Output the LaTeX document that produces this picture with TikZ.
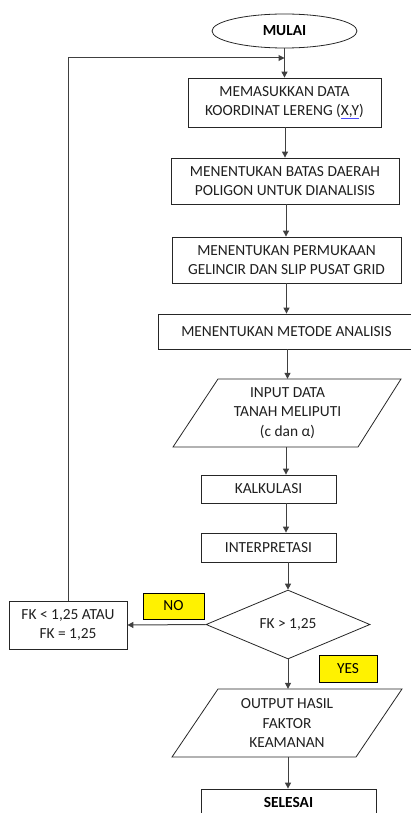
\documentclass[tikz,border=0pt]{standalone}
\usepackage{fontspec}
\setmainfont{Carlito}
\usetikzlibrary{shapes.geometric,arrows.meta}
\begin{document}
\begin{tikzpicture}[x=1pt,y=-1pt,
  boxn/.style={draw=black!85, line width=0.8pt, rectangle, inner sep=0pt, align=center, text=black!88, font=\fontsize{15.4}{19}\selectfont},
  txtn/.style={rectangle, inner sep=0pt, align=center, text=black!88, font=\fontsize{15.4}{19.5}\selectfont},
  shp/.style={draw=black!85, line width=0.8pt},
  conn/.style={draw=black!75, line width=1pt, -{Triangle[length=6pt,width=6pt]}},
  tag/.style={draw=black, fill=yellow, line width=0.8pt, rectangle, inner sep=0pt, text=black, font=\fontsize{15.4}{18}\selectfont},
]
\useasboundingbox (0,0) rectangle (410,813);
\coordinate (spine) at (286,0);
\node[ellipse, draw=black!85, line width=0.8pt, minimum width=145pt, minimum height=34pt, inner sep=0pt, font=\fontsize{15.4}{18}\selectfont\bfseries] (mulai) at (284.5,31) {MULAI};
\node[boxn, minimum width=193pt, minimum height=49pt] (b1) at (284.5,102.5) {MEMASUKKAN DATA\\KOORDINAT LERENG ({\color{blue!70}\underline{\textcolor{black!88}{X,Y}}})};
\node[boxn, minimum width=228pt, minimum height=46pt] (b2) at (285,181) {MENENTUKAN BATAS DAERAH\\POLIGON UNTUK DIANALISIS};
\node[boxn, minimum width=229pt, minimum height=46pt] (b3) at (286.5,260) {MENENTUKAN PERMUKAAN\\GELINCIR DAN SLIP PUSAT GRID};
\node[boxn, minimum width=257pt, minimum height=35pt] (b4) at (286.5,331.5) {MENENTUKAN METODE ANALISIS};
\draw[shp] (218,379) -- (401,379) -- (358,447) -- (173,447) -- cycle;
\node[txtn, minimum width=140pt, minimum height=68pt] (inp) at (287.5,413) {INPUT DATA\\TANAH MELIPUTI\\(c dan α)};
\node[boxn, minimum width=135pt, minimum height=28pt] (kalk) at (268.5,489) {KALKULASI};
\node[boxn, minimum width=135pt, minimum height=29pt] (interp) at (268.5,547.5) {INTERPRETASI};
\node[diamond, draw=black!85, line width=0.8pt, minimum width=164pt, minimum height=66pt, inner sep=0pt, text=black!88, font=\fontsize{15.4}{18}\selectfont] (dec) at (288,624.5) {FK > 1,25};
\node[boxn, minimum width=118pt, minimum height=48pt] (fk) at (68,625) {FK < 1,25 ATAU\\FK = 1,25};
\node[tag, minimum width=61pt, minimum height=26pt] (no) at (173.5,606) {NO};
\node[tag, minimum width=58pt, minimum height=27pt] (yes) at (348,668.5) {YES};
\draw[shp] (218,689) -- (402,689) -- (356,757) -- (172,757) -- cycle;
\node[txtn, minimum width=140pt, minimum height=68pt] (outp) at (287,723) {OUTPUT HASIL\\FAKTOR\\KEAMANAN};
\node[boxn, minimum width=175pt, minimum height=26pt, font=\fontsize{15.4}{18}\selectfont\bfseries, text=black] (selesai) at (288.5,802) {SELESAI};
\coordinate (loopin) at (284.5,58);
% connectors
\draw[conn] (mulai.south) -- (b1.north);
\draw[conn] (b1.south -| b2.north) -- (b2.north);
\draw[conn] (b2.south -| spine) -- (b3.north -| spine);
\draw[conn] (b3.south -| b4.north) -- (b4.north);
\draw[conn] (b4.south -| inp.north) -- (inp.north);
\draw[conn] (inp.south -| spine) -- (kalk.north -| spine);
\draw[conn] (kalk.south -| spine) -- (interp.north -| spine);
\draw[conn] (interp.south -| dec.north) -- (dec.north);
\draw[conn] (dec.west) -- (fk.east);
\draw[conn] (fk.north) |- (loopin);
\draw[conn] (dec.south) -- (dec.south |- outp.north);
\draw[conn] (outp.south -| dec.south) -- (selesai.north -| dec.south);
\end{tikzpicture}
\end{document}
